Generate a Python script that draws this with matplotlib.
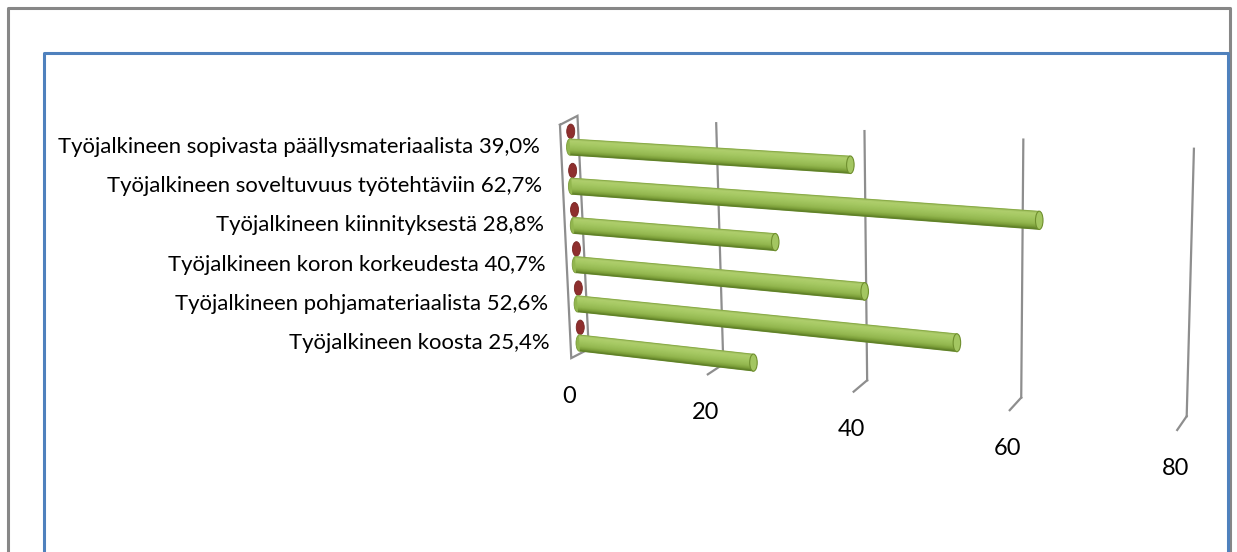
import numpy as np
import matplotlib
matplotlib.use("Agg")
import matplotlib.pyplot as plt
from matplotlib.transforms import Transform
from matplotlib.patches import Ellipse
from matplotlib.colors import LinearSegmentedColormap

# ---------------- data ----------------
categories = [
    "Työjalkineen sopivasta päällysmateriaalista 39,0%",
    "Työjalkineen soveltuvuus työtehtäviin 62,7%",
    "Työjalkineen kiinnityksestä 28,8%",
    "Työjalkineen koron korkeudesta 40,7%",
    "Työjalkineen pohjamateriaalista 52,6%",
    "Työjalkineen koosta 25,4%",
]
green_values = [39.0, 62.7, 28.8, 40.7, 52.6, 25.4]
red_values = [0, 0, 0, 0, 0, 0]
x_ticks = [0, 20, 40, 60, 80]

# ---------------- 3-D like projection (value, category, depth) -> pixels ----------------
CX, CY = 570.0, -120.0
A, B, G, K = 6.74, 1.9, 0.037, 0.0016
Y0, F = 267.0, 39.2


class Persp(Transform):
    input_dims = 2
    output_dims = 2

    def __init__(self, z=0.5):
        super().__init__()
        self.z = z

    def transform_non_affine(self, values):
        values = np.asarray(values, dtype=float).reshape(-1, 2)
        v = values[:, 0]
        c = values[:, 1]
        w = 1.0 - K * v
        dz = self.z - 0.5
        x = CX + (A * v + B * c - G * v * c) / w + dz * (17.5 - 0.1 * v)
        y = CY + (Y0 + F * c) / w + dz * (-9.0 - 0.06 * v)
        return np.column_stack([x, y])


W, H = 1237, 552
fig = plt.figure(figsize=(W / 100, H / 100), dpi=100)
ax = fig.add_axes([0, 0, 1, 1])
ax.set_axis_off()

pos = np.arange(len(categories), dtype=float)
c_top, c_bot = -0.68, 5.27
thick = 0.42
red_off = -0.40

P_back, P_mid, P_front = Persp(1.0), Persp(0.5), Persp(0.0)
grid_col = "#8E8E8E"

# side wall at value 0
wall = np.vstack([
    P_front.transform([[0, c_top]]), P_back.transform([[0, c_top]]),
    P_back.transform([[0, c_bot]]), P_front.transform([[0, c_bot]]),
    P_front.transform([[0, c_top]]),
])
ax.plot(wall[:, 0], wall[:, 1], color=grid_col, lw=1.6, zorder=1, solid_joinstyle="miter")

# grid lines on back wall + floor ticks + labels
for v in x_ticks:
    if v != x_ticks[0]:
        ax.plot([v, v], [c_top, c_bot], transform=P_back + ax.transData,
                color=grid_col, lw=1.6, zorder=1)
        b = P_back.transform([[v, c_bot]])[0]
        f = P_front.transform([[v, c_bot]])[0]
        ax.plot([b[0], f[0]], [b[1], f[1]], color=grid_col, lw=1.6, zorder=1)
    f = P_front.transform([[v, c_bot]])[0]
    ax.text(f[0] - 2, f[1] + 38, f"{v}", fontsize=17, family="Lato",
            ha="center", va="center", color="black")

# red (zero) series: end faces only
red_pts = P_mid.transform(np.column_stack([red_values, pos + red_off]))
for (x, y) in red_pts:
    ax.add_patch(Ellipse((x + 1.5, y), 8, 14.5, facecolor="#8E2F2E", edgecolor="#7A2523",
                         lw=0.6, zorder=2))

# green cylinders
cmap = LinearSegmentedColormap.from_list(
    "cyl", [(0.0, "#7E9F3C"), (0.12, "#B0CF6E"), (0.35, "#A6C963"),
            (0.7, "#93B74F"), (0.88, "#7A9D38"), (1.0, "#5A7A24")])
start_pts = P_mid.transform(np.column_stack([np.zeros_like(pos), pos]))
for (x, y) in start_pts:
    ax.add_patch(Ellipse((x, y), 7, F * thick, facecolor="#92B64E", edgecolor="#7A9B3A",
                         lw=0.6, zorder=3))
ax.barh(pos, green_values, height=thick, left=0, color="#9CC05A", lw=0,
        transform=P_mid + ax.transData, zorder=3)
N = 16
for k in range(N):
    off = -thick / 2 + (k + 0.5) * thick / N
    ax.barh(pos + off, green_values, height=thick / N * 1.6, left=0,
            color=cmap((k + 0.5) / N), lw=0, transform=P_mid + ax.transData, zorder=3)
end_pts = P_mid.transform(np.column_stack([green_values, pos]))
for v, c, (x, y) in zip(green_values, pos, end_pts):
    t = P_mid.transform([[v, c - thick / 2], [v, c + thick / 2]])
    h = t[1, 1] - t[0, 1]
    ax.add_patch(Ellipse((x, y), 7.5, h, facecolor="#A3C661", edgecolor="#6F8F2E",
                         lw=0.8, zorder=4))

# category labels
for c, lab in zip(pos, categories):
    p = P_front.transform([[0, c]])[0]
    ym = P_mid.transform([[0, c]])[0][1]
    ax.text(p[0] - 21, ym, lab, fontsize=15.9, family="Lato", ha="right",
            va="center", color="black")

# frames
ax.plot([8, 8, 1230, 1230], [H + 10, 8, 8, H + 10], color="#878787", lw=2.2, zorder=0)
ax.plot([44, 44, 1228, 1228], [H + 10, 53, 53, H + 10], color="#4F81BD", lw=2.2, zorder=0)

ax.set_xlim(0, W)
ax.set_ylim(H, 0)
fig.savefig("out.png", dpi=100)
